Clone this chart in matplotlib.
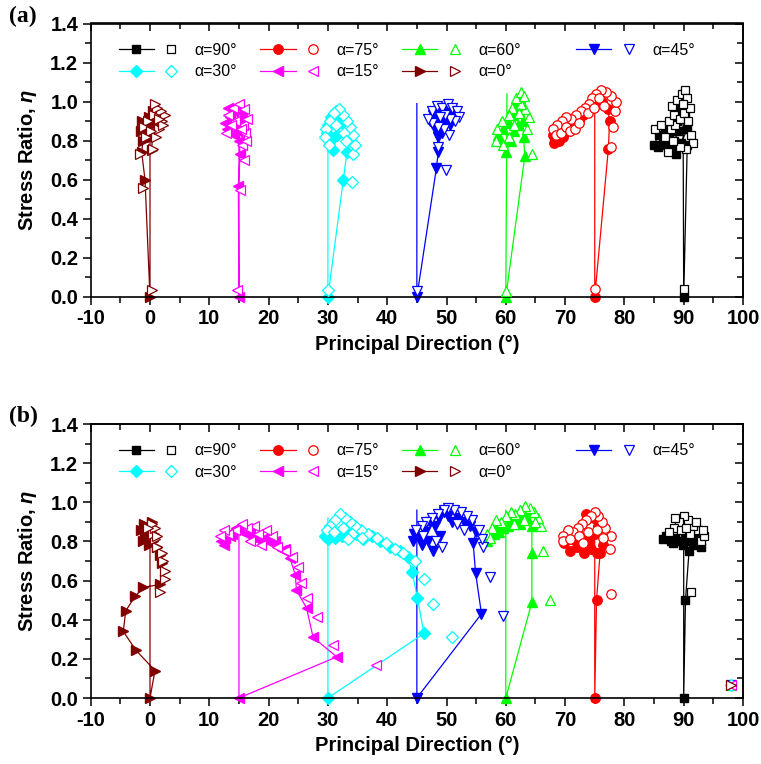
import matplotlib
matplotlib.use("Agg")
import numpy as np
import matplotlib.pyplot as plt
from matplotlib.lines import Line2D
from matplotlib.legend_handler import HandlerTuple
from matplotlib.ticker import MultipleLocator

plt.rcParams['font.family'] = ['Liberation Sans', 'DejaVu Sans']
plt.rcParams['mathtext.fontset'] = 'custom'
plt.rcParams['mathtext.rm'] = 'Liberation Sans:bold'
plt.rcParams['mathtext.it'] = 'Liberation Sans:italic:bold'

# ---------------- series styling (alpha angles) ----------------
angles = [90, 75, 60, 45, 30, 15, 0]
colors = {90: '#000000', 75: '#FF0000', 60: '#00FF00', 45: '#0000FF',
          30: '#00FFFF', 15: '#FF00FF', 0: '#800000'}
markers = {90: 's', 75: 'o', 60: '^', 45: 'v', 30: 'D', 15: '<', 0: '>'}
msizes = {90: 6, 75: 6.8, 60: 7.5, 45: 7.5, 30: 5.8, 15: 7.5, 0: 7.5}

# ---------------- panel (a) data: filled = path with line (first point = spike top, no marker) ----------------
a_f0 = [(0, 0.84), (0, 0), (-0.84, 0.60), (-1.4, 0.74), (-1.2, 0.80), (-1.5, 0.85), (-0.8, 0.88), (-1.3, 0.90),
        (-0.5, 0.86), (0.0, 0.83), (0.3, 0.88), (-0.2, 0.92), (0.5, 0.95), (0.9, 0.90), (0.4, 0.82), (0.28, 0.75)]
a_o0 = [(0.28, 0.035), (-1.1, 0.56), (-1.7, 0.73), (0.56, 0.76), (1.0, 0.82), (1.5, 0.86), (2.0, 0.90), (2.5, 0.93),
        (1.8, 0.95), (1.2, 0.97), (0.6, 0.93), (-0.3, 0.90), (-1.0, 0.87), (0.2, 0.85), (2.2, 0.88), (1.6, 0.91),
        (0.9, 0.99), (-0.6, 0.82)]
a_f15 = [(15, 0.80), (15, 0), (14.9, 0.57), (15.2, 0.73), (15.0, 0.80), (14.2, 0.83), (13.0, 0.86), (12.6, 0.89),
         (13.5, 0.92), (14.4, 0.88), (15.2, 0.91), (14.0, 0.95), (13.2, 0.97), (14.8, 0.98), (15.5, 0.94), (14.6, 0.85)]
a_o15 = [(14.7, 0.035), (15.2, 0.55), (15.9, 0.70), (15.5, 0.78), (16.0, 0.84), (15.7, 0.88), (16.3, 0.91),
         (15.3, 0.86), (14.4, 0.90), (13.6, 0.88), (13.1, 0.93), (14.0, 0.97), (15.0, 0.99), (15.8, 0.96),
         (16.2, 0.80), (12.8, 0.84)]
a_f30 = [(30, 0.82), (30, 0), (32.6, 0.60), (33.2, 0.74), (33.3, 0.80), (33.6, 0.85), (32.8, 0.88), (32.0, 0.92),
         (31.3, 0.95), (30.6, 0.92), (30.0, 0.88), (29.8, 0.84), (30.4, 0.80), (30.9, 0.75), (31.5, 0.83), (31.9, 0.89)]
a_o30 = [(30.07, 0.035), (34.1, 0.59), (34.3, 0.73), (34.5, 0.78), (34.2, 0.83), (33.8, 0.87), (33.2, 0.90),
         (32.5, 0.93), (31.8, 0.96), (31.0, 0.94), (30.3, 0.90), (29.6, 0.86), (29.5, 0.82), (30.2, 0.78),
         (31.4, 0.88), (32.7, 0.84), (33.0, 0.80)]
a_f45 = [(45, 0.99), (45, 0), (48.3, 0.66), (48.6, 0.74), (48.5, 0.82), (48.0, 0.86), (47.2, 0.90), (47.8, 0.93),
         (48.6, 0.95), (49.5, 0.97), (50.3, 0.95), (49.7, 0.90), (49.0, 0.88), (48.2, 0.91), (49.3, 0.84),
         (50.6, 0.88), (51.2, 0.93)]
a_o45 = [(45, 0.03), (49.9, 0.65), (48.5, 0.77), (50.4, 0.83), (49.6, 0.86), (48.6, 0.87), (47.6, 0.89), (46.8, 0.91),
         (47.5, 0.95), (48.4, 0.98), (49.2, 0.97), (50.2, 0.99), (51.0, 0.97), (51.8, 0.95), (52.1, 0.92),
         (51.4, 0.90), (50.6, 0.91), (49.8, 0.93), (48.9, 0.92)]
a_f60 = [(60.2, 1.04), (60, 0), (63.2, 0.72), (63.0, 0.82), (62.9, 0.90), (62.3, 0.95), (61.6, 0.98), (62.4, 1.02),
         (61.2, 0.93), (60.6, 0.89), (59.6, 0.86), (58.7, 0.83), (59.2, 0.80), (60.1, 0.74), (60.8, 0.80),
         (61.4, 0.85), (62.0, 0.88)]
a_o60 = [(60, 0.03), (64.4, 0.73), (63.6, 0.86), (63.9, 0.92), (63.3, 0.96), (62.6, 0.99), (61.8, 1.02), (62.5, 1.05),
         (63.1, 1.03), (61.0, 0.97), (60.6, 0.93), (59.4, 0.90), (58.5, 0.86), (58.3, 0.80), (59.6, 0.78),
         (60.5, 0.82), (61.3, 0.88), (62.2, 0.94)]
a_f75 = [(75, 1.03), (75, 0), (77.3, 0.76), (77.5, 0.90), (77.2, 0.96), (76.2, 1.00), (75.4, 0.99), (74.6, 0.97),
         (73.8, 0.96), (73.0, 0.93), (72.3, 0.90), (71.5, 0.88), (70.6, 0.85), (69.7, 0.82), (68.9, 0.80),
         (68.2, 0.79), (67.9, 0.83)]
a_o75 = [(75, 0.04), (77.7, 0.77), (78.0, 0.87), (78.4, 0.95), (78.6, 1.00), (77.8, 1.03), (76.9, 1.05), (76.0, 1.06),
         (75.2, 1.04), (74.5, 1.02), (74.0, 0.99), (73.4, 0.97), (72.7, 0.95), (71.8, 0.93), (71.0, 0.91),
         (70.2, 0.92), (69.4, 0.90), (68.6, 0.88), (68.0, 0.86), (68.4, 0.83), (69.3, 0.84), (70.1, 0.87),
         (70.9, 0.85), (71.6, 0.86), (72.4, 0.89), (73.9, 0.94), (74.9, 0.97), (75.8, 1.02), (76.5, 0.98)]
a_f90 = [(89.9, 0.90), (90, 0), (90.6, 0.78), (88.7, 0.73), (88.0, 0.76), (87.2, 0.78), (86.5, 0.80), (85.6, 0.77),
         (85.0, 0.78), (85.8, 0.83), (86.8, 0.86), (87.6, 0.83), (88.4, 0.80), (89.1, 0.85), (88.8, 0.90),
         (89.5, 0.95), (89.2, 1.00), (89.8, 1.03), (89.0, 0.97), (90.3, 0.92), (90.6, 0.86), (89.6, 0.79)]
a_o90 = [(90, 0.04), (85.2, 0.86), (86.2, 0.88), (86.9, 0.82), (87.8, 0.86), (88.6, 0.88), (87.5, 0.90), (88.3, 0.93),
         (89.4, 0.91), (90.1, 0.94), (90.8, 0.90), (91.3, 0.83), (91.5, 0.79), (90.4, 0.76), (89.3, 0.77),
         (87.4, 0.74), (88.1, 0.98), (88.9, 1.01), (89.7, 1.04), (90.2, 1.06), (90.6, 1.02), (91.0, 0.97),
         (89.9, 0.99), (88.2, 0.80)]

# ---------------- panel (b) data ----------------
b_f0 = [(0, 0.90), (0, 0), (0.84, 0.14), (-2.4, 0.245), (-4.5, 0.34), (-4.1, 0.445), (-2.5, 0.52), (-1.1, 0.565),
        (1.7, 0.58), (2.1, 0.69), (1.7, 0.73), (1.2, 0.77), (0.5, 0.80), (-0.3, 0.82), (-1.2, 0.80), (-0.8, 0.84),
        (0.2, 0.86), (-0.5, 0.88), (0.4, 0.90), (-1.0, 0.89), (0.7, 0.84), (-1.6, 0.86), (-0.2, 0.78)]
b_o0 = [(1.7, 0.54), (2.5, 0.61), (2.5, 0.65), (2.2, 0.70), (2.0, 0.74), (1.1, 0.77), (0.84, 0.81), (0.56, 0.84),
        (0.9, 0.87), (0.3, 0.89), (-0.4, 0.87), (1.2, 0.83), (98, 0.065)]
b_f15 = [(15, 0.84), (15, 0), (31.5, 0.21), (27.5, 0.31), (26.4, 0.46), (24.7, 0.55), (24.5, 0.63), (23.6, 0.715),
         (22.2, 0.756), (20.8, 0.79), (19.7, 0.80), (18.8, 0.80), (17.5, 0.82), (16.2, 0.84), (15.0, 0.86),
         (13.8, 0.84), (12.6, 0.82), (12.0, 0.80), (12.4, 0.78), (13.5, 0.83), (14.5, 0.87), (16.8, 0.85),
         (19.3, 0.82), (21.0, 0.80), (22.8, 0.76)]
b_o15 = [(38.1, 0.17), (30.8, 0.27), (28.1, 0.415), (26.4, 0.51), (25.4, 0.59), (25.0, 0.67), (24.0, 0.72),
         (22.8, 0.75), (21.5, 0.77), (20.6, 0.83), (19.5, 0.86), (18.2, 0.84), (17.6, 0.88), (16.4, 0.87),
         (15.5, 0.89), (14.3, 0.86), (13.2, 0.84), (12.4, 0.86), (11.8, 0.83), (18.8, 0.78), (16.9, 0.80), (98, 0.065)]
b_f30 = [(30, 0.92), (30, 0), (46.2, 0.33), (45.1, 0.51), (44.2, 0.645), (43.5, 0.72), (42.2, 0.75), (40.5, 0.77),
         (38.8, 0.80), (37.4, 0.83), (36.0, 0.81), (34.8, 0.84), (33.6, 0.86), (32.4, 0.83), (31.2, 0.82),
         (30.0, 0.81), (29.5, 0.83), (30.6, 0.85)]
b_o30 = [(50.9, 0.31), (47.8, 0.48), (46.2, 0.61), (44.7, 0.70), (42.7, 0.74), (41.3, 0.76), (39.8, 0.79),
         (38.2, 0.82), (36.8, 0.84), (35.5, 0.86), (34.6, 0.88), (33.8, 0.90), (32.9, 0.92), (32.0, 0.94),
         (31.2, 0.91), (30.4, 0.88), (29.8, 0.86), (31.0, 0.85), (32.6, 0.87), (34.0, 0.84), (35.8, 0.82),
         (33.4, 0.81), (98, 0.065)]
b_f45 = [(45, 0.96), (45, 0), (55.9, 0.43), (54.9, 0.64), (54.5, 0.79), (55.0, 0.85), (54.0, 0.88), (53.0, 0.90),
         (52.0, 0.92), (51.0, 0.90), (50.2, 0.93), (49.5, 0.95), (48.8, 0.92), (48.0, 0.88), (47.2, 0.90),
         (46.4, 0.85), (45.5, 0.82), (44.3, 0.80), (44.5, 0.84), (45.8, 0.78), (46.8, 0.80), (47.8, 0.75),
         (48.9, 0.83)]
b_o45 = [(59.5, 0.42), (57.3, 0.62), (56.2, 0.77), (56.0, 0.81), (55.5, 0.86), (54.3, 0.91), (53.4, 0.93),
         (52.4, 0.95), (51.3, 0.96), (50.3, 0.97), (49.5, 0.96), (48.6, 0.94), (47.6, 0.92), (46.6, 0.90),
         (45.8, 0.88), (44.9, 0.86), (49.2, 0.77), (48.3, 0.80), (46.0, 0.83), (51.8, 0.89), (53.0, 0.86), (98, 0.065)]
b_f60 = [(60, 0.96), (60, 0), (64.4, 0.49), (64.4, 0.74), (64.4, 0.88), (63.6, 0.92), (62.8, 0.94), (62.0, 0.92),
         (61.2, 0.90), (60.4, 0.88), (59.6, 0.87), (58.8, 0.85), (58.0, 0.84), (57.2, 0.82), (56.8, 0.80),
         (58.4, 0.88), (60.8, 0.92), (62.4, 0.89), (63.8, 0.95)]
b_o60 = [(67.5, 0.50), (66.2, 0.75), (66.0, 0.88), (65.5, 0.92), (64.8, 0.95), (64.0, 0.97), (63.2, 0.98),
         (62.4, 0.96), (61.6, 0.94), (60.8, 0.95), (60.0, 0.93), (59.2, 0.90), (58.4, 0.91), (57.6, 0.87),
         (56.8, 0.84), (57.4, 0.82), (65.0, 0.90), (63.0, 0.91), (61.4, 0.89), (98, 0.065)]
b_f75 = [(75, 0.96), (75, 0), (75.3, 0.50), (75.9, 0.74), (76.4, 0.78), (75.4, 0.74), (74.3, 0.76), (73.2, 0.74),
         (72.0, 0.77), (70.8, 0.75), (69.8, 0.79), (70.6, 0.81), (71.8, 0.80), (72.9, 0.82), (74.0, 0.80),
         (75.0, 0.84), (75.6, 0.88), (74.8, 0.92), (73.6, 0.94)]
b_o75 = [(77.7, 0.53), (77.5, 0.76), (77.8, 0.83), (76.8, 0.87), (76.2, 0.90), (75.6, 0.93), (75.0, 0.95),
         (74.3, 0.93), (73.5, 0.91), (72.8, 0.89), (72.1, 0.87), (71.3, 0.85), (70.5, 0.86), (69.7, 0.83),
         (69.6, 0.80), (70.9, 0.81), (72.4, 0.83), (73.8, 0.85), (75.3, 0.86), (76.4, 0.82), (73.0, 0.79), (98, 0.065)]
b_f90 = [(90, 0.80), (90, 0), (90.3, 0.50), (90.9, 0.75), (91.6, 0.78), (92.5, 0.80), (93.0, 0.77), (92.2, 0.82),
         (91.2, 0.80), (90.3, 0.82), (89.4, 0.80), (88.6, 0.82), (87.8, 0.80), (87.0, 0.83), (86.5, 0.81),
         (88.2, 0.79), (89.8, 0.78), (91.8, 0.83)]
b_o90 = [(91.3, 0.54), (92.9, 0.80), (93.5, 0.83), (92.4, 0.86), (91.6, 0.88), (90.8, 0.91), (90.0, 0.93),
         (89.2, 0.90), (88.4, 0.87), (87.6, 0.85), (88.6, 0.92), (89.6, 0.86), (91.0, 0.84), (92.0, 0.90),
         (90.4, 0.87), (93.2, 0.86), (98, 0.065)]

panel_a = {0: (a_f0, a_o0), 15: (a_f15, a_o15), 30: (a_f30, a_o30), 45: (a_f45, a_o45),
           60: (a_f60, a_o60), 75: (a_f75, a_o75), 90: (a_f90, a_o90)}
panel_b = {0: (b_f0, b_o0), 15: (b_f15, b_o15), 30: (b_f30, b_o30), 45: (b_f45, b_o45),
           60: (b_f60, b_o60), 75: (b_f75, b_o75), 90: (b_f90, b_o90)}

x_ticks = list(range(-10, 101, 10))
y_ticks = [0.0, 0.2, 0.4, 0.6, 0.8, 1.0, 1.2, 1.4]

W, H = 761, 764
fig = plt.figure(figsize=(W / 100, H / 100), dpi=100)

def px_rect(left, top, right, bottom):
    return [left / W, 1 - bottom / H, (right - left) / W, (bottom - top) / H]

ax_a = fig.add_axes(px_rect(90.7, 23.5, 743, 297))
ax_b = fig.add_axes(px_rect(90.7, 424, 743, 698))

def legend_handles(a):
    c, m, s = colors[a], markers[a], msizes[a]
    filled = Line2D([], [], color=c, marker=m, mfc=c, mec=c, ms=s, lw=0.9)
    opened = Line2D([], [], ls='none', color=c, marker=m, mfc='white', mec=c, ms=s, mew=0.9)
    return (filled, opened)

def draw_panel(ax, data, label, label_top_px):
    for a in angles:
        f, o = data[a]
        fx, fy = np.array(f).T
        ox, oy = np.array(o).T
        c, m, s = colors[a], markers[a], msizes[a]
        ax.plot(fx, fy, color=c, lw=0.9, marker=m, ms=s, mfc=c, mec=c,
                markevery=slice(1, None), zorder=2, clip_on=False)
        ax.plot(ox, oy, ls='none', marker=m, ms=s, mfc='white', mec=c, mew=0.9, zorder=3, clip_on=False)
    ax.set_xlim(-10, 100)
    ax.set_ylim(0, 1.4)
    ax.set_xticks(x_ticks)
    ax.set_yticks(y_ticks)
    ax.set_xticklabels([str(v) for v in x_ticks])
    ax.set_yticklabels([f"{v:.1f}" for v in y_ticks])
    ax.xaxis.set_minor_locator(MultipleLocator(5))
    ax.yaxis.set_minor_locator(MultipleLocator(0.1))
    ax.tick_params(which='major', direction='out', length=6, width=1.1, labelsize=14.5, pad=3)
    ax.tick_params(which='minor', direction='out', length=4, width=1.1)
    for lab in ax.get_xticklabels() + ax.get_yticklabels():
        lab.set_fontweight('bold')
    for sp in ax.spines.values():
        sp.set_linewidth(1.2)
    # mirrored inward ticks on top and right
    top = ax.secondary_xaxis('top')
    top.set_xticks(x_ticks)
    top.xaxis.set_minor_locator(MultipleLocator(5))
    top.tick_params(which='major', direction='in', length=6, width=1.1, labeltop=False)
    top.tick_params(which='minor', direction='in', length=4, width=1.1)
    right = ax.secondary_yaxis('right')
    right.set_yticks(y_ticks)
    right.yaxis.set_minor_locator(MultipleLocator(0.1))
    right.tick_params(which='major', direction='in', length=6, width=1.1, labelright=False)
    right.tick_params(which='minor', direction='in', length=4, width=1.1)
    for sec in (top, right):
        for sp in sec.spines.values():
            sp.set_linewidth(1.2)

    ax.set_xlabel('Principal Direction (°)', fontsize=14.5, fontweight='bold', labelpad=5)
    ax.set_ylabel(r'Stress Ratio, $\eta$', fontsize=14.5, fontweight='bold', labelpad=8)

    hmap = {tuple: HandlerTuple(ndivide=None, pad=0.0)}
    order = [90, 30, 75, 15, 60, 0]
    leg1 = ax.legend([legend_handles(a) for a in order], [f'α={a}°' for a in order],
                     ncol=3, handler_map=hmap, loc='upper left', bbox_to_anchor=(0.043, 0.93),
                     frameon=False, fontsize=11.5, handlelength=4.4, handletextpad=0.35,
                     columnspacing=1.45, labelspacing=0.42, borderpad=0, borderaxespad=0)
    ax.add_artist(leg1)
    ax.legend([legend_handles(45)], ['α=45°'], handler_map=hmap, loc='upper left',
              bbox_to_anchor=(0.744, 0.93), frameon=False, fontsize=11.5, handlelength=4.4,
              handletextpad=0.35, borderpad=0, borderaxespad=0)

    fig.text(9 / W, 1 - label_top_px / H, label, fontsize=17, fontweight='bold',
             family=['Liberation Serif', 'DejaVu Serif'], ha='left', va='top')

draw_panel(ax_a, panel_a, '(a)', 6)
draw_panel(ax_b, panel_b, '(b)', 406)

fig.savefig('out.png', dpi=100)
